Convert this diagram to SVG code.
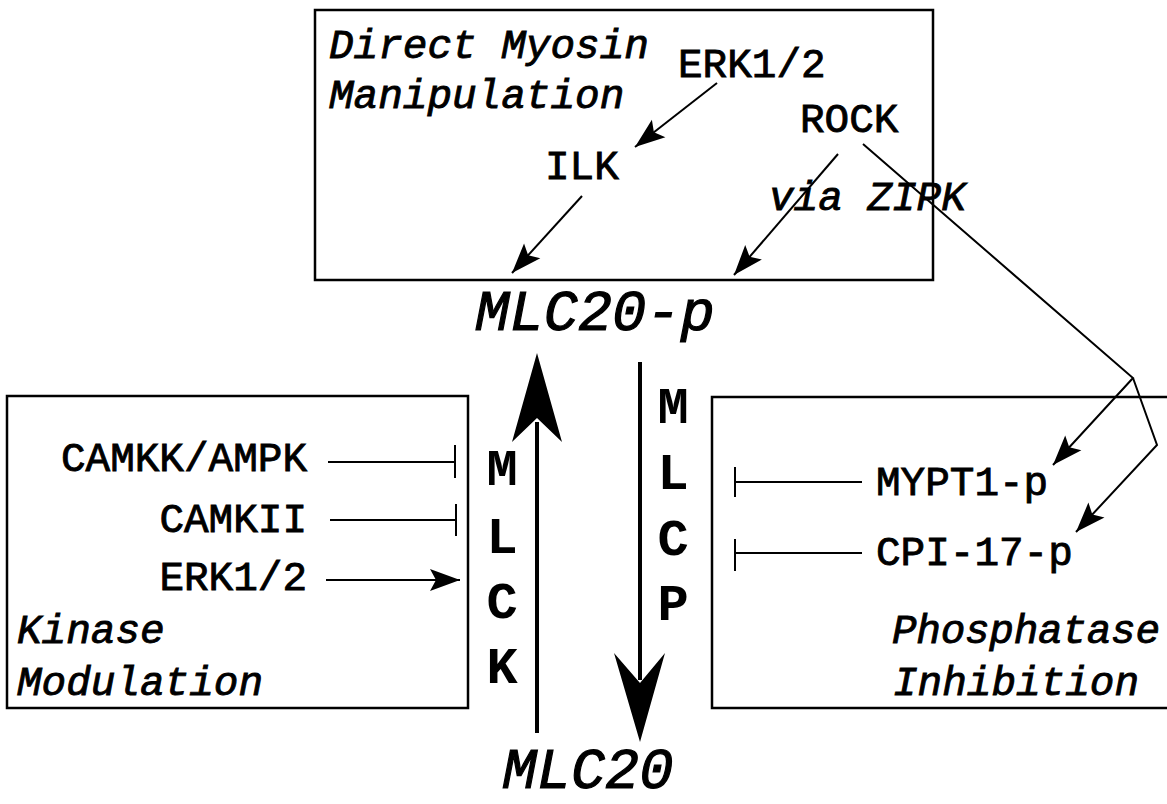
<svg xmlns="http://www.w3.org/2000/svg" width="1167" height="804" viewBox="0 0 1167 804">
  <style>
    .box { fill: none; stroke: #000; stroke-width: 2.5; }
    .ln { fill: none; stroke: #000; stroke-width: 2; }
    .big { fill: none; stroke: #000; stroke-width: 4; }
    .head { fill: #000; stroke: none; }
    text { font-family: "Liberation Mono", "Courier New", monospace; fill: #000; stroke: #000; stroke-width: 0.9; }
    .lab { font-size: 41px; font-weight: normal; }
    .title { font-size: 41px; font-weight: normal; font-style: italic; }
    .main { font-size: 57px; font-weight: normal; font-style: italic; stroke-width: 1.2; }
    .enz { font-size: 52px; font-weight: bold; text-anchor: middle; stroke-width: 0; }
  </style>
  <defs>
    <marker id="arr" markerUnits="userSpaceOnUse" viewBox="-31 -12 33 24" markerWidth="33" markerHeight="24" refX="0" refY="0" orient="auto">
      <path d="M0,0 L-30,-11 L-24,0 L-30,11 Z" fill="#000"/>
    </marker>
  </defs>
  <rect width="1167" height="804" fill="#fff"/>

  <g id="box-direct">
    <rect class="box" x="315" y="10" width="618" height="270"/>
    <text class="title" x="329" y="58">Direct Myosin</text>
    <text class="title" x="329" y="108">Manipulation</text>
  </g>
  <g id="node-erk-top"><text class="lab" x="678" y="77">ERK1/2</text></g>
  <g id="node-rock"><text class="lab" x="800" y="132">ROCK</text></g>
  <g id="node-ilk"><text class="lab" x="545" y="179">ILK</text></g>
  <g id="label-zipk"><text class="title" x="769" y="210">via ZIPK</text></g>

  <g id="node-mlc20p"><text class="main" x="595" y="330" text-anchor="middle">MLC20-p</text></g>
  <g id="node-mlc20"><text class="main" x="588" y="788" text-anchor="middle">MLC20</text></g>

  <g id="box-kinase">
    <rect class="box" x="7" y="396" width="461" height="312"/>
    <text class="title" x="17" y="643">Kinase</text>
    <text class="title" x="17" y="695">Modulation</text>
  </g>
  <g id="node-camkk"><text class="lab" x="307" y="471" text-anchor="end">CAMKK/AMPK</text></g>
  <g id="node-camkii"><text class="lab" x="307" y="532" text-anchor="end">CAMKII</text></g>
  <g id="node-erk-left"><text class="lab" x="307" y="590" text-anchor="end">ERK1/2</text></g>

  <g id="box-phosphatase">
    <rect class="box" x="712" y="397" width="475" height="311"/>
    <text class="title" x="892" y="643" textLength="268" lengthAdjust="spacing">Phosphatase</text>
    <text class="title" x="893" y="695">Inhibition</text>
  </g>
  <g id="node-mypt1"><text class="lab" x="876" y="495">MYPT1-p</text></g>
  <g id="node-cpi17"><text class="lab" x="876" y="565">CPI-17-p</text></g>

  <g id="node-mlck">
    <text class="enz" x="502" y="485">M</text>
    <text class="enz" x="502" y="553">L</text>
    <text class="enz" x="502" y="618">C</text>
    <text class="enz" x="502" y="683">K</text>
  </g>
  <g id="node-mlcp">
    <text class="enz" x="673" y="423">M</text>
    <text class="enz" x="673" y="489">L</text>
    <text class="enz" x="673" y="555">C</text>
    <text class="enz" x="673" y="620">P</text>
  </g>

  <g id="connectors">
    <line class="big" x1="537" y1="733" x2="537" y2="422"/>
    <path class="head" d="M537,353 L562,442 L537,418 L512,442 Z"/>
    <line class="big" x1="640" y1="362" x2="640" y2="680"/>
    <path class="head" d="M640,742 L665,653 L640,683 L614,653 Z"/>

    <line class="ln" x1="717" y1="83" x2="635" y2="147" marker-end="url(#arr)"/>
    <line class="ln" x1="582" y1="196" x2="512" y2="273" marker-end="url(#arr)"/>
    <line class="ln" x1="838" y1="154" x2="734" y2="275" marker-end="url(#arr)"/>
    <polyline class="ln" points="863,144 1133,378 1053,465" marker-end="url(#arr)"/>
    <polyline class="ln" points="1133,378 1157,445 1076,532" marker-end="url(#arr)"/>

    <line class="ln" x1="328" y1="462" x2="455" y2="462"/>
    <line class="ln" x1="455" y1="445" x2="455" y2="478"/>
    <line class="ln" x1="330" y1="520" x2="456" y2="520"/>
    <line class="ln" x1="456" y1="504" x2="456" y2="536"/>
    <line class="ln" x1="326" y1="580" x2="460" y2="580" marker-end="url(#arr)"/>

    <line class="ln" x1="862" y1="482" x2="735" y2="482"/>
    <line class="ln" x1="735" y1="467" x2="735" y2="497"/>
    <line class="ln" x1="862" y1="553" x2="735" y2="553"/>
    <line class="ln" x1="735" y1="539" x2="735" y2="571"/>
  </g>
</svg>
